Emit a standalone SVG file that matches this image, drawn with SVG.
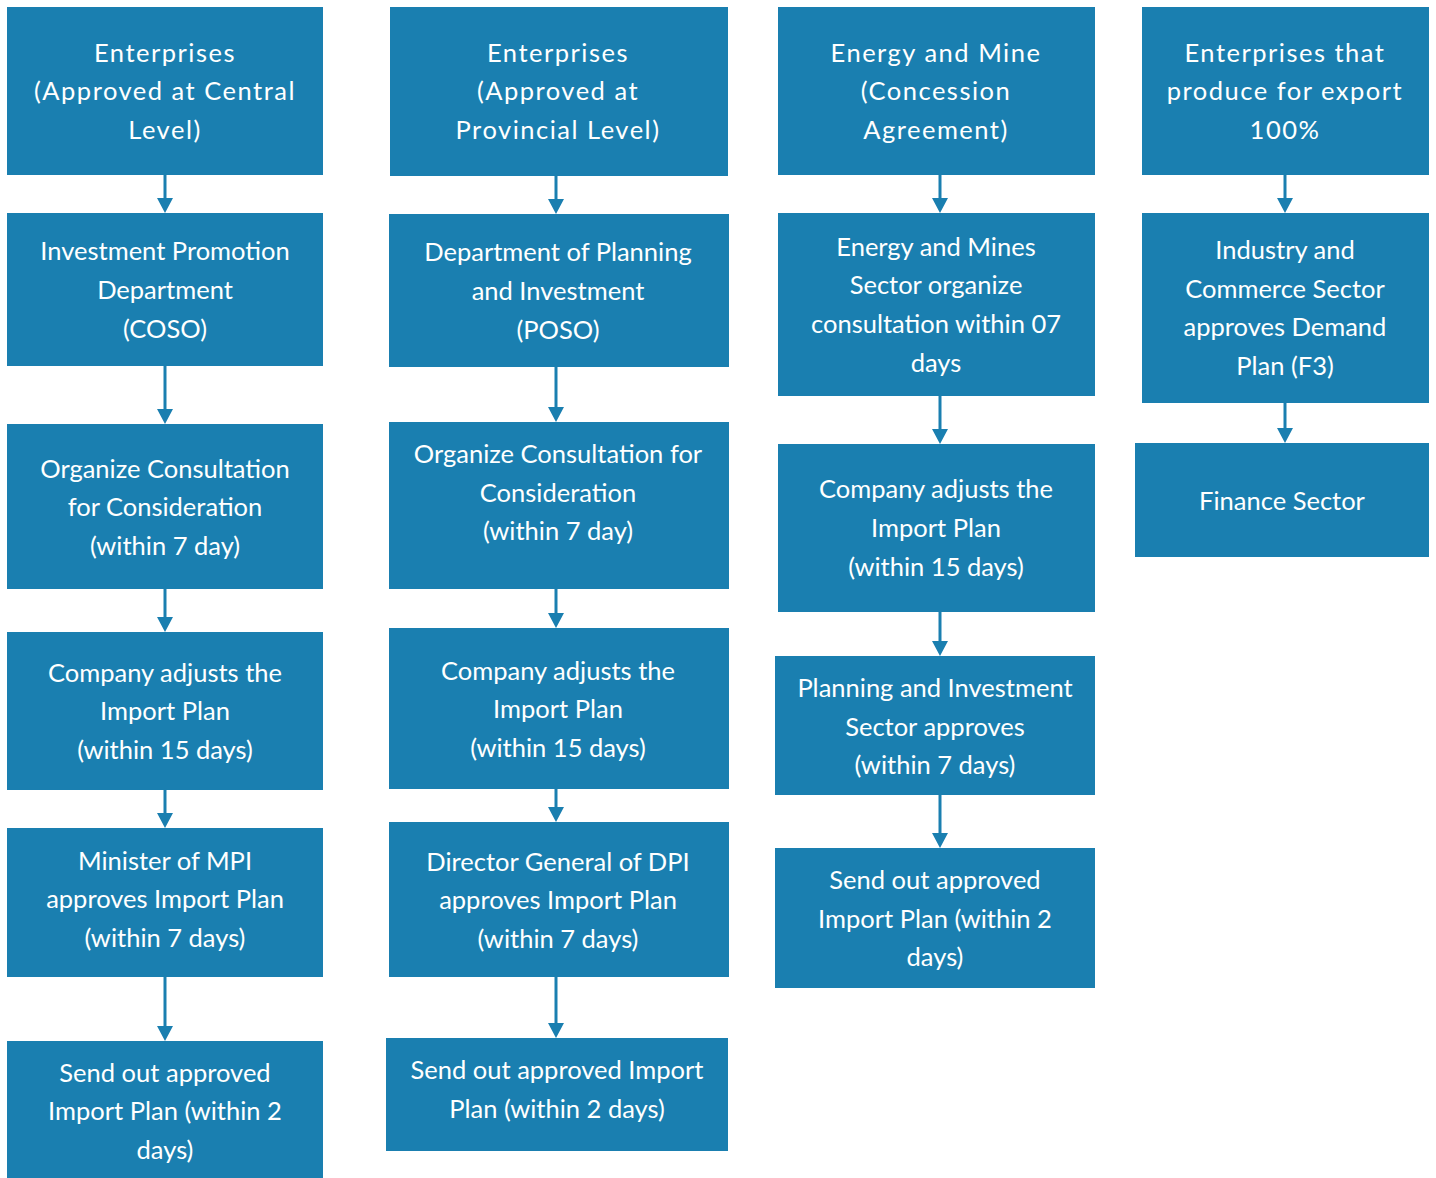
<svg xmlns="http://www.w3.org/2000/svg" width="1436" height="1178" viewBox="0 0 1436 1178">
  <style>
    .box { fill: #1a7fb0; }
    .lbl { fill: #ffffff; font-family: "Lato", "Liberation Sans", sans-serif; font-size: 25.5px; text-anchor: middle; }
    .head { letter-spacing: 1.5px; }
    .conn { stroke: #1a7fb0; stroke-width: 3; fill: none; marker-end: url(#arrow); }
  </style>
  <defs>
    <marker id="arrow" viewBox="0 0 15 16" markerWidth="15" markerHeight="16" refX="5" refY="8" orient="auto" markerUnits="userSpaceOnUse">
      <path d="M0,0 L15,8 L0,16 z" fill="#1a7fb0"/>
    </marker>
  </defs>

  <rect width="1436" height="1178" fill="#ffffff"/>

  <!-- Column 1: central-level enterprises -->
  <g id="c1-start">
    <rect class="box" x="7" y="7" width="316" height="168"/>
    <text class="lbl head" x="165" y="62">Enterprises</text>
    <text class="lbl head" x="165" y="100">(Approved at Central</text>
    <text class="lbl head" x="165" y="139">Level)</text>
  </g>
  <g id="c1-ipd">
    <rect class="box" x="7" y="213" width="316" height="153"/>
    <text class="lbl" x="165" y="260">Investment Promotion</text>
    <text class="lbl" x="165" y="299">Department</text>
    <text class="lbl" x="165" y="338">(COSO)</text>
  </g>
  <g id="c1-consult">
    <rect class="box" x="7" y="424" width="316" height="165"/>
    <text class="lbl" x="165" y="478">Organize Consultation</text>
    <text class="lbl" x="165" y="516">for Consideration</text>
    <text class="lbl" x="165" y="555">(within 7 day)</text>
  </g>
  <g id="c1-adjust">
    <rect class="box" x="7" y="632" width="316" height="158"/>
    <text class="lbl" x="165" y="682">Company adjusts the</text>
    <text class="lbl" x="165" y="720">Import Plan</text>
    <text class="lbl" x="165" y="759">(within 15 days)</text>
  </g>
  <g id="c1-approve">
    <rect class="box" x="7" y="828" width="316" height="149"/>
    <text class="lbl" x="165" y="870">Minister of MPI</text>
    <text class="lbl" x="165" y="908">approves Import Plan</text>
    <text class="lbl" x="165" y="947">(within 7 days)</text>
  </g>
  <g id="c1-send">
    <rect class="box" x="7" y="1041" width="316" height="137"/>
    <text class="lbl" x="165" y="1082">Send out approved</text>
    <text class="lbl" x="165" y="1120">Import Plan (within 2</text>
    <text class="lbl" x="165" y="1159">days)</text>
  </g>

  <!-- Column 2: provincial-level enterprises -->
  <g id="c2-start">
    <rect class="box" x="390" y="7" width="338" height="169"/>
    <text class="lbl head" x="558" y="62">Enterprises</text>
    <text class="lbl head" x="558" y="100">(Approved at</text>
    <text class="lbl head" x="558" y="139">Provincial Level)</text>
  </g>
  <g id="c2-dpi">
    <rect class="box" x="389" y="214" width="340" height="153"/>
    <text class="lbl" x="558" y="261">Department of Planning</text>
    <text class="lbl" x="558" y="300">and Investment</text>
    <text class="lbl" x="558" y="339">(POSO)</text>
  </g>
  <g id="c2-consult">
    <rect class="box" x="389" y="422" width="340" height="167"/>
    <text class="lbl" x="558" y="463">Organize Consultation for</text>
    <text class="lbl" x="558" y="502">Consideration</text>
    <text class="lbl" x="558" y="540">(within 7 day)</text>
  </g>
  <g id="c2-adjust">
    <rect class="box" x="389" y="628" width="340" height="161"/>
    <text class="lbl" x="558" y="680">Company adjusts the</text>
    <text class="lbl" x="558" y="718">Import Plan</text>
    <text class="lbl" x="558" y="757">(within 15 days)</text>
  </g>
  <g id="c2-approve">
    <rect class="box" x="389" y="822" width="340" height="155"/>
    <text class="lbl" x="558" y="871">Director General of DPI</text>
    <text class="lbl" x="558" y="909">approves Import Plan</text>
    <text class="lbl" x="558" y="948">(within 7 days)</text>
  </g>
  <g id="c2-send">
    <rect class="box" x="386" y="1038" width="342" height="113"/>
    <text class="lbl" x="557" y="1079">Send out approved Import</text>
    <text class="lbl" x="557" y="1118">Plan (within 2 days)</text>
  </g>

  <!-- Column 3: energy and mines concessions -->
  <g id="c3-start">
    <rect class="box" x="778" y="7" width="317" height="168"/>
    <text class="lbl head" x="936" y="62">Energy and Mine</text>
    <text class="lbl head" x="936" y="100">(Concession</text>
    <text class="lbl head" x="936" y="139">Agreement)</text>
  </g>
  <g id="c3-consult">
    <rect class="box" x="778" y="213" width="317" height="183"/>
    <text class="lbl" x="936" y="256">Energy and Mines</text>
    <text class="lbl" x="936" y="294">Sector organize</text>
    <text class="lbl" x="936" y="333">consultation within 07</text>
    <text class="lbl" x="936" y="372">days</text>
  </g>
  <g id="c3-adjust">
    <rect class="box" x="778" y="444" width="317" height="168"/>
    <text class="lbl" x="936" y="498">Company adjusts the</text>
    <text class="lbl" x="936" y="537">Import Plan</text>
    <text class="lbl" x="936" y="576">(within 15 days)</text>
  </g>
  <g id="c3-approve">
    <rect class="box" x="775" y="656" width="320" height="139"/>
    <text class="lbl" x="935" y="697">Planning and Investment</text>
    <text class="lbl" x="935" y="736">Sector approves</text>
    <text class="lbl" x="935" y="774">(within 7 days)</text>
  </g>
  <g id="c3-send">
    <rect class="box" x="775" y="848" width="320" height="140"/>
    <text class="lbl" x="935" y="889">Send out approved</text>
    <text class="lbl" x="935" y="928">Import Plan (within 2</text>
    <text class="lbl" x="935" y="966">days)</text>
  </g>

  <!-- Column 4: export-only producers -->
  <g id="c4-start">
    <rect class="box" x="1142" y="7" width="287" height="168"/>
    <text class="lbl head" x="1285" y="62">Enterprises that</text>
    <text class="lbl head" x="1285" y="100">produce for export</text>
    <text class="lbl head" x="1285" y="139">100%</text>
  </g>
  <g id="c4-industry">
    <rect class="box" x="1142" y="213" width="287" height="190"/>
    <text class="lbl" x="1285" y="259">Industry and</text>
    <text class="lbl" x="1285" y="298">Commerce Sector</text>
    <text class="lbl" x="1285" y="336">approves Demand</text>
    <text class="lbl" x="1285" y="375">Plan (F3)</text>
  </g>
  <g id="c4-finance">
    <rect class="box" x="1135" y="443" width="294" height="114"/>
    <text class="lbl" x="1282" y="510">Finance Sector</text>
  </g>

  <!-- Connectors -->
  <g id="connectors">
    <line class="conn" x1="165" y1="175" x2="165" y2="203"/>
    <line class="conn" x1="165" y1="366" x2="165" y2="414"/>
    <line class="conn" x1="165" y1="589" x2="165" y2="622"/>
    <line class="conn" x1="165" y1="790" x2="165" y2="818"/>
    <line class="conn" x1="165" y1="977" x2="165" y2="1031"/>

    <line class="conn" x1="556" y1="176" x2="556" y2="204"/>
    <line class="conn" x1="556" y1="367" x2="556" y2="412"/>
    <line class="conn" x1="556" y1="589" x2="556" y2="618"/>
    <line class="conn" x1="556" y1="789" x2="556" y2="812"/>
    <line class="conn" x1="556" y1="977" x2="556" y2="1028"/>

    <line class="conn" x1="940" y1="175" x2="940" y2="203"/>
    <line class="conn" x1="940" y1="396" x2="940" y2="434"/>
    <line class="conn" x1="940" y1="612" x2="940" y2="646"/>
    <line class="conn" x1="940" y1="795" x2="940" y2="838"/>

    <line class="conn" x1="1285" y1="175" x2="1285" y2="203"/>
    <line class="conn" x1="1285" y1="403" x2="1285" y2="433"/>
  </g>
</svg>
